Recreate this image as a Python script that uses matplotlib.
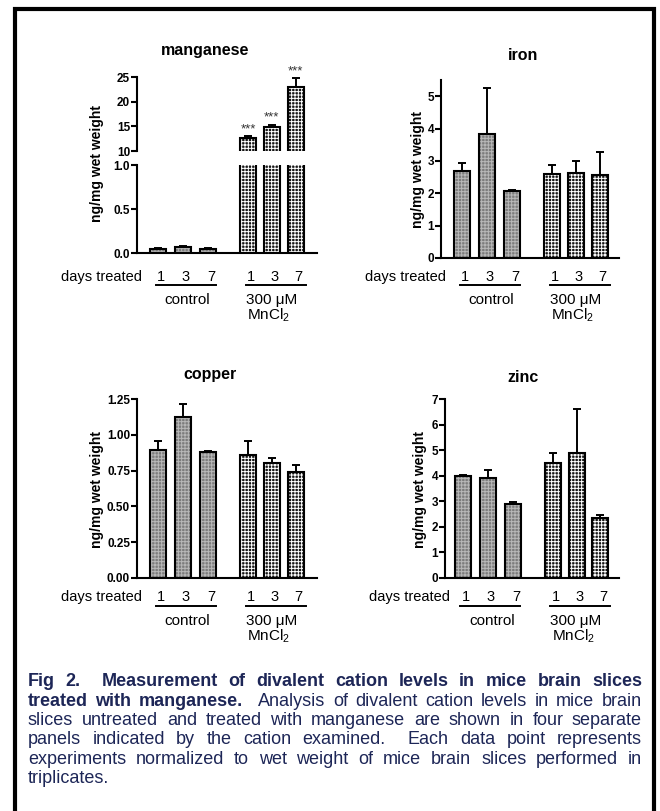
import matplotlib
matplotlib.use("Agg")
import matplotlib.pyplot as plt
import matplotlib.transforms as mtransforms
from matplotlib.lines import Line2D

plt.rcParams["font.family"] = ["Liberation Sans", "DejaVu Sans"]
plt.rcParams["mathtext.fontset"] = "custom"
plt.rcParams["mathtext.rm"] = "Liberation Sans"
plt.rcParams["mathtext.it"] = "Liberation Sans:italic"
plt.rcParams["hatch.linewidth"] = 0.7

W, H = 660, 811

# ---- data ----
days = ["1", "3", "7", "1", "3", "7"]
mn_mean = [0.05, 0.068, 0.05, 12.7, 14.9, 23.0]
mn_err = [0.005, 0.008, 0.005, 0.3, 0.4, 1.7]
mn_stars = ["", "", "", "***", "***", "***"]
fe_mean = [2.68, 3.83, 2.08, 2.60, 2.63, 2.57]
fe_err = [0.27, 1.43, 0.02, 0.28, 0.37, 0.70]
cu_mean = [0.894, 1.122, 0.882, 0.859, 0.800, 0.742]
cu_err = [0.065, 0.091, 0.004, 0.100, 0.040, 0.045]
zn_mean = [3.97, 3.91, 2.89, 4.50, 4.89, 2.33]
zn_err = [0.07, 0.31, 0.09, 0.37, 1.71, 0.12]

caption = [
    ("Fig 2.  Measurement of divalent cation levels in mice brain slices", ""),
    ("treated with manganese.", "Analysis of divalent cation levels in mice brain"),
    ("", "slices untreated and treated with manganese are shown in four separate"),
    ("", "panels indicated by the cation examined.  Each data point represents"),
    ("", "experiments normalized to wet weight of mice brain slices performed in"),
    ("", "triplicates."),
]

xpos = [0, 1, 2, 3.6, 4.55, 5.5]
BAR_W = 0.64

fig = plt.figure(figsize=(W / 100, H / 100), dpi=100)


def add_ax(left, right, top, bottom):
    return fig.add_axes([left / W, 1 - bottom / H, (right - left) / W, (bottom - top) / H])


def style(ax, ylim, yticks, ylabels, xlim):
    ax.set_xlim(*xlim)
    ax.set_ylim(*ylim)
    for s in ["top", "right"]:
        ax.spines[s].set_visible(False)
    for s in ["left", "bottom"]:
        ax.spines[s].set_linewidth(1.5)
    ax.set_yticks(yticks)
    ax.set_yticklabels(ylabels, fontweight="bold", fontsize=8.5)
    ax.tick_params(axis="y", direction="out", length=4, width=1.5, pad=1)
    ax.tick_params(axis="x", bottom=False, labelbottom=False)
    ax.patch.set_alpha(0)


def draw_bars(ax, mean, err):
    for i, (x, m) in enumerate(zip(xpos, mean)):
        if i < 3:
            face, grid = "#7c7c7c", "#b8b8b8"
        else:
            face, grid = "#151515", "white"
        ax.bar(x, m, width=BAR_W, color=face, edgecolor="none", zorder=2)
        ax.bar(x, m, width=BAR_W, color="none", edgecolor=grid, hatch="+++++",
               linewidth=0, zorder=2.1)
        ax.bar(x, m, width=BAR_W, color="none", edgecolor="black", linewidth=1.5,
               zorder=2.2)
    ax.errorbar(xpos, mean, yerr=[[0] * len(err), err], fmt="none", ecolor="black",
                elinewidth=1.4, capsize=2.8, capthick=1.4, zorder=3)


def under_labels(ax, left_px, rows):
    tr = mtransforms.blended_transform_factory(ax.transData, fig.transFigure)
    fy = lambda py: 1 - py / H
    fig.text((left_px + 5) / W, fy(rows["num"]), "days treated", ha="right", va="center",
             fontsize=10.5)
    for x, d in zip(xpos, days):
        ax.text(x + 0.12, fy(rows["num"]), d, transform=tr, ha="center", va="center",
                fontsize=10.5)
    for x0, x1 in [(-0.1, 2.3), (3.5, 5.9)]:
        ax.add_line(Line2D([x0, x1], [fy(rows["line"])] * 2, transform=tr, color="black",
                           lw=1.4, clip_on=False))
    ax.text(1.16, fy(rows["ctrl"]), "control", transform=tr, ha="center", va="center",
            fontsize=11)
    ax.text(3.5, fy(rows["ctrl"]), "300 \u03bcM", transform=tr, ha="left", va="center",
            fontsize=11)
    ax.text(3.55, fy(rows["mn"]), "MnCl$_2$", transform=tr, ha="left", va="center",
            fontsize=11)


def panel_text(title, tx, ty, lx, ly):
    fig.text(tx / W, 1 - ty / H, title, ha="center", va="center", fontsize=11.5,
             fontweight="bold")
    fig.text(lx / W, 1 - ly / H, "ng/mg wet weight", rotation=90, ha="center",
             va="center", fontsize=10, fontweight="bold")


row1 = {"num": 277, "line": 285, "ctrl": 300, "mn": 315}
row2 = {"num": 597, "line": 606, "ctrl": 621, "mn": 636}

# ---- manganese (broken axis) ----
mn_lo = add_ax(137, 317, 165, 253)
mn_hi = add_ax(137, 317, 77, 151)
draw_bars(mn_lo, mn_mean, mn_err)
draw_bars(mn_hi, mn_mean, mn_err)
style(mn_lo, (0, 1.0), [0, 0.5, 1.0], ["0.0", "0.5", "1.0"], (-0.84, 6.36))
style(mn_hi, (10, 25), [10, 15, 20, 25], ["10", "15", "20", "25"], (-0.84, 6.36))
mn_hi.spines["bottom"].set_visible(False)
for x, m, e, s in zip(xpos, mn_mean, mn_err, mn_stars):
    if s:
        mn_hi.text(x, m + e + 0.2, s, ha="center", va="bottom", fontsize=9.5,
                   color="#333333")
panel_text("manganese", 205, 50, 97, 163)
under_labels(mn_lo, 137, row1)

# ---- iron ----
ax = add_ax(441, 619, 80, 258)
draw_bars(ax, fe_mean, fe_err)
style(ax, (0, 5.5), [0, 1, 2, 3, 4, 5], ["0", "1", "2", "3", "4", "5"], (-0.84, 6.28))
panel_text("iron", 523, 55, 418, 170)
under_labels(ax, 441, row1)

# ---- copper ----
ax = add_ax(137, 317, 399, 578)
draw_bars(ax, cu_mean, cu_err)
style(ax, (0, 1.25), [0, 0.25, 0.5, 0.75, 1.0, 1.25],
      ["0.00", "0.25", "0.50", "0.75", "1.00", "1.25"], (-0.84, 6.36))
panel_text("copper", 210, 375, 97, 490)
under_labels(ax, 137, row2)

# ---- zinc ----
ax = add_ax(445, 619, 399, 578)
draw_bars(ax, zn_mean, zn_err)
style(ax, (0, 7), list(range(8)), [str(v) for v in range(8)], (-0.72, 6.24))
panel_text("zinc", 523, 377, 420, 490)
under_labels(ax, 445, row2)

# ---- frame ----
fig.add_artist(Line2D([14.5 / W, 14.5 / W, 653.5 / W, 653.5 / W],
                      [0, 1 - 9 / H, 1 - 9 / H, 0], transform=fig.transFigure,
                      color="black", lw=3, solid_joinstyle="miter"))

# ---- justified caption ----
renderer = fig.canvas.get_renderer()
cap_color = "#1d2657"
x_left, x_right = 28, 642
for li, (bold, reg) in enumerate(caption):
    y = 1 - (682 + 19.3 * li) / H
    words = [(w, "bold") for w in bold.split()] + [(w, "normal") for w in reg.split()]
    texts = []
    for w, wt in words:
        t = fig.text(0, y, w, fontsize=13, fontweight=wt, color=cap_color, va="center",
                     ha="left")
        texts.append(t)
    widths = [t.get_window_extent(renderer).width for t in texts]
    gaps = [2 if words[i][0].endswith(".") else 1 for i in range(len(words) - 1)]
    last = li == len(caption) - 1
    if last or len(words) == 1:
        unit = 4.0
    else:
        unit = (x_right - x_left - sum(widths)) / sum(gaps)
    x = x_left
    for i, t in enumerate(texts):
        t.set_x(x / W)
        x += widths[i]
        if i < len(gaps):
            x += unit * gaps[i]

fig.savefig("out.png", dpi=100)
